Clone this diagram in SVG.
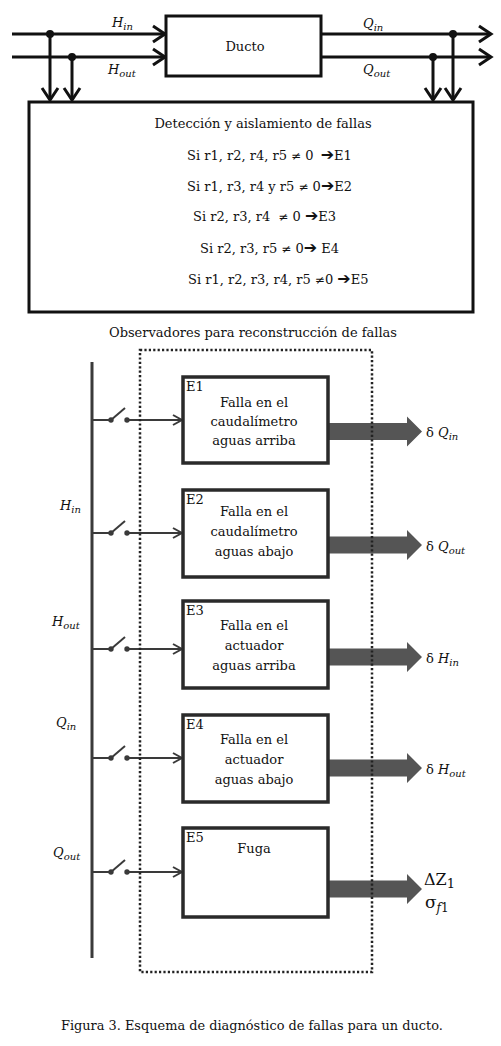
<svg xmlns="http://www.w3.org/2000/svg" width="501" height="1046" viewBox="0 0 501 1046">
<defs>
<style>
text{font-family:"DejaVu Serif","Liberation Serif",serif;fill:#111}
.t{font-size:13px}
.it{font-style:italic}
.box{fill:#fff;stroke:#111;stroke-width:3}
.obox{fill:#fff;stroke:#2a2a2a;stroke-width:3.5}
.ln{stroke:#111;stroke-width:3;fill:none}
.gl{stroke:#3a3a3a;stroke-width:2;fill:none}
.sym{font-family:"DejaVu Sans",sans-serif}
</style>
<marker id="chev" markerUnits="userSpaceOnUse" markerWidth="16" markerHeight="20" refX="13" refY="9" orient="auto" viewBox="0 0 16 18">
<path d="M1,1 L13,9 L1,17" fill="none" stroke="#111" stroke-width="3"/>
</marker>
<marker id="small" markerUnits="userSpaceOnUse" markerWidth="12" markerHeight="14" refX="10" refY="6" orient="auto" viewBox="0 0 12 12">
<path d="M1,1 L10,6 L1,11" fill="none" stroke="#3a3a3a" stroke-width="2"/>
</marker>
<path id="fat" d="M0,-8.5 L79,-8.5 L79,-15 L94,0 L79,15 L79,8.5 L0,8.5 Z" fill="#555"/>
</defs>

<g id="connectors">
<line class="ln" x1="12" y1="34" x2="165" y2="34" marker-end="url(#chev)"/>
<line class="ln" x1="12" y1="57" x2="165" y2="57" marker-end="url(#chev)"/>
<line class="ln" x1="321" y1="34" x2="491" y2="34" marker-end="url(#chev)"/>
<line class="ln" x1="321" y1="57" x2="491" y2="57" marker-end="url(#chev)"/>
<line class="ln" x1="50" y1="34" x2="50" y2="100" marker-end="url(#chev)"/>
<line class="ln" x1="72" y1="57" x2="72" y2="100" marker-end="url(#chev)"/>
<line class="ln" x1="433" y1="57" x2="433" y2="100" marker-end="url(#chev)"/>
<line class="ln" x1="453" y1="34" x2="453" y2="100" marker-end="url(#chev)"/>
<circle cx="50" cy="34" r="4" fill="#111"/>
<circle cx="72" cy="57" r="4" fill="#111"/>
<circle cx="453" cy="34" r="4" fill="#111"/>
<circle cx="433" cy="57" r="4" fill="#111"/>

<line x1="92" y1="362" x2="92" y2="958" stroke="#3a3a3a" stroke-width="3"/>
<g id="sw1">
<line class="gl" x1="92" y1="420" x2="111" y2="420"/>
<circle cx="111" cy="420" r="2.7" fill="#3a3a3a"/>
<line class="gl" x1="111" y1="420" x2="125" y2="408"/>
<circle cx="127" cy="420" r="2.7" fill="#3a3a3a"/>
<line class="gl" x1="127" y1="420" x2="182" y2="420" marker-end="url(#small)"/>
</g>
<g id="sw2">
<line class="gl" x1="92" y1="533" x2="111" y2="533"/>
<circle cx="111" cy="533" r="2.7" fill="#3a3a3a"/>
<line class="gl" x1="111" y1="533" x2="125" y2="521"/>
<circle cx="127" cy="533" r="2.7" fill="#3a3a3a"/>
<line class="gl" x1="127" y1="533" x2="182" y2="533" marker-end="url(#small)"/>
</g>
<g id="sw3">
<line class="gl" x1="92" y1="649" x2="111" y2="649"/>
<circle cx="111" cy="649" r="2.7" fill="#3a3a3a"/>
<line class="gl" x1="111" y1="649" x2="125" y2="637"/>
<circle cx="127" cy="649" r="2.7" fill="#3a3a3a"/>
<line class="gl" x1="127" y1="649" x2="182" y2="649" marker-end="url(#small)"/>
</g>
<g id="sw4">
<line class="gl" x1="92" y1="758" x2="111" y2="758"/>
<circle cx="111" cy="758" r="2.7" fill="#3a3a3a"/>
<line class="gl" x1="111" y1="758" x2="125" y2="746"/>
<circle cx="127" cy="758" r="2.7" fill="#3a3a3a"/>
<line class="gl" x1="127" y1="758" x2="182" y2="758" marker-end="url(#small)"/>
</g>
<g id="sw5">
<line class="gl" x1="92" y1="872" x2="111" y2="872"/>
<circle cx="111" cy="872" r="2.7" fill="#3a3a3a"/>
<line class="gl" x1="111" y1="872" x2="125" y2="860"/>
<circle cx="127" cy="872" r="2.7" fill="#3a3a3a"/>
<line class="gl" x1="127" y1="872" x2="182" y2="872" marker-end="url(#small)"/>
</g>
</g>

<g id="outputs">
<use href="#fat" x="328" y="431.5"/>
<use href="#fat" x="328" y="545"/>
<use href="#fat" x="328" y="657"/>
<use href="#fat" x="328" y="768"/>
<use href="#fat" x="328" y="889"/>
</g>

<rect id="observers-frame" x="140" y="350" width="232" height="622" fill="none" stroke="#222" stroke-width="2.5" stroke-dasharray="2.2,2.2"/>

<g id="ducto">
<rect class="box" x="166" y="16" width="155" height="60"/>
<text class="t" x="245" y="51" text-anchor="middle">Ducto</text>
</g>
<text class="t it" x="112" y="27">H<tspan font-size="10" dy="3">in</tspan></text>
<text class="t it" x="108" y="74">H<tspan font-size="10" dy="3">out</tspan></text>
<text class="t it" x="363" y="28">Q<tspan font-size="10" dy="3">in</tspan></text>
<text class="t it" x="363" y="74">Q<tspan font-size="10" dy="3">out</tspan></text>

<g id="deteccion">
<rect class="box" x="29" y="102" width="444" height="210"/>
<text class="t" x="263" y="128" text-anchor="middle">Detección y aislamiento de fallas</text>
<text class="t" x="187" y="160">Si r1, r2, r4, r5 <tspan class="sym" font-size="12">≠</tspan> 0 <tspan class="sym" font-size="16" font-weight="bold" dx="3">➔</tspan>E1</text>
<text class="t" x="187" y="191">Si r1, r3, r4 y r5 <tspan class="sym" font-size="12">≠</tspan> 0<tspan class="sym" font-size="16" font-weight="bold">➔</tspan>E2</text>
<text class="t" x="193" y="221">Si r2, r3, r4 <tspan dx="4" class="sym" font-size="12">≠</tspan> 0 <tspan class="sym" font-size="16" font-weight="bold">➔</tspan>E3</text>
<text class="t" x="200" y="253">Si r2, r3, r5 <tspan class="sym" font-size="12">≠</tspan> 0<tspan class="sym" font-size="16" font-weight="bold">➔</tspan> E4</text>
<text class="t" x="188" y="284">Si r1, r2, r3, r4, r5 <tspan class="sym" font-size="12">≠</tspan>0 <tspan class="sym" font-size="16" font-weight="bold">➔</tspan>E5</text>
</g>

<text class="t" x="253" y="337" text-anchor="middle">Observadores para reconstrucción de fallas</text>

<g id="E1">
<rect class="obox" x="183" y="377" width="145" height="86"/>
<text class="t" x="186" y="391">E1</text>
<text class="t" x="254" y="407" text-anchor="middle">Falla en el</text>
<text class="t" x="254" y="426" text-anchor="middle">caudalímetro</text>
<text class="t" x="254" y="445" text-anchor="middle">aguas arriba</text>
</g>
<g id="E2">
<rect class="obox" x="183" y="490" width="145" height="87"/>
<text class="t" x="186" y="504">E2</text>
<text class="t" x="254" y="516" text-anchor="middle">Falla en el</text>
<text class="t" x="254" y="536" text-anchor="middle">caudalímetro</text>
<text class="t" x="254" y="556" text-anchor="middle">aguas abajo</text>
</g>
<g id="E3">
<rect class="obox" x="183" y="601" width="145" height="87"/>
<text class="t" x="186" y="615">E3</text>
<text class="t" x="254" y="630" text-anchor="middle">Falla en el</text>
<text class="t" x="254" y="650" text-anchor="middle">actuador</text>
<text class="t" x="254" y="670" text-anchor="middle">aguas arriba</text>
</g>
<g id="E4">
<rect class="obox" x="183" y="715" width="145" height="87"/>
<text class="t" x="186" y="729">E4</text>
<text class="t" x="254" y="744" text-anchor="middle">Falla en el</text>
<text class="t" x="254" y="764" text-anchor="middle">actuador</text>
<text class="t" x="254" y="784" text-anchor="middle">aguas abajo</text>
</g>
<g id="E5">
<rect class="obox" x="183" y="828" width="145" height="89"/>
<text class="t" x="186" y="842">E5</text>
<text class="t" x="254" y="853" text-anchor="middle">Fuga</text>
</g>

<text class="t" x="426" y="437">δ <tspan class="it">Q<tspan font-size="10" dy="3">in</tspan></tspan></text>
<text class="t" x="426" y="551">δ <tspan class="it">Q<tspan font-size="10" dy="3">out</tspan></tspan></text>
<text class="t" x="426" y="663">δ <tspan class="it">H<tspan font-size="10" dy="3">in</tspan></tspan></text>
<text class="t" x="426" y="774">δ <tspan class="it">H<tspan font-size="10" dy="3">out</tspan></tspan></text>
<text x="424" y="885" font-size="16">ΔZ<tspan font-size="13" dy="3">1</tspan></text>
<text x="425" y="908" font-size="17">σ<tspan font-size="12" dy="4"><tspan font-style="italic">f</tspan>1</tspan></text>

<text class="t it" x="60" y="510">H<tspan font-size="10" dy="3">in</tspan></text>
<text class="t it" x="52" y="626">H<tspan font-size="10" dy="3">out</tspan></text>
<text class="t it" x="56" y="727">Q<tspan font-size="10" dy="3">in</tspan></text>
<text class="t it" x="53" y="857">Q<tspan font-size="10" dy="3">out</tspan></text>

<text x="61" y="1030" font-size="12.9">Figura 3. Esquema de diagnóstico de fallas para un ducto.</text>
</svg>
